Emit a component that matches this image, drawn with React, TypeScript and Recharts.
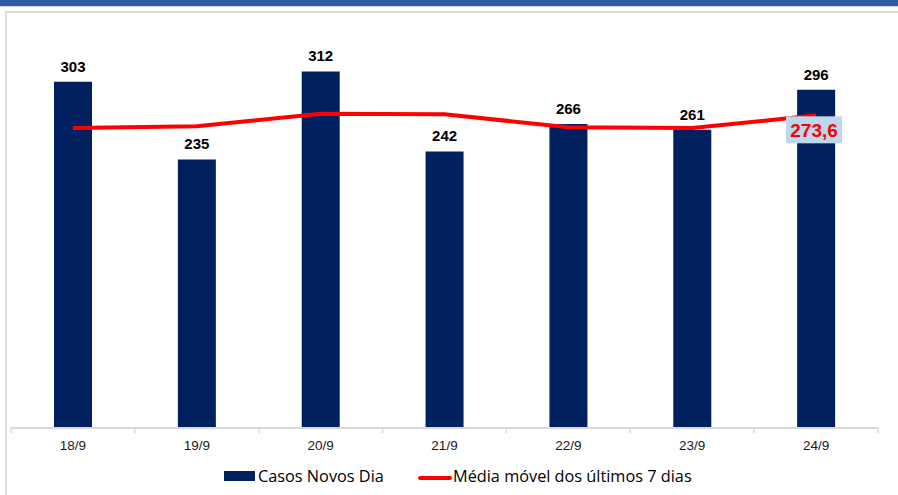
import React from "react";
import { ComposedChart, Bar, Line, XAxis, YAxis, LabelList, Legend } from "recharts";

const dias = ["18/9", "19/9", "20/9", "21/9", "22/9", "23/9", "24/9"];
const casosNovos = [303, 235, 312, 242, 266, 261, 296];
const mediaMovel = [262.4, 264.1, 274.9, 274.6, 263.1, 262.4, 273.6];

const data = dias.map((dia, i) => ({ dia, casos: casosNovos[i], media: mediaMovel[i] }));

const NAVY = "#002060";
const RED = "#FF0000";
const GRID = "#D9D9D9";
const TICK_SIZE = 6;
const TICK_MARGIN = 6;

// label + marcas nos limites das categorias (como no Excel)
function TickDia(props: any) {
  const { x, y, payload, index, visibleTicksCount } = props;
  const half = payload?.offset ?? 0;
  const axisY = y - TICK_SIZE - TICK_MARGIN;
  const last = index === (visibleTicksCount ?? dias.length) - 1;
  return (
    <g>
      <line x1={x - half} x2={x - half} y1={axisY} y2={axisY + 5} stroke={GRID} strokeWidth={1.5} />
      {last && <line x1={x + half} x2={x + half} y1={axisY} y2={axisY + 5} stroke={GRID} strokeWidth={1.5} />}
      <text
        x={x}
        y={y}
        dy="0.71em"
        textAnchor="middle"
        fill="#1a1a1a"
        fontSize={13.5}
        fontFamily="'Liberation Sans', Arial, sans-serif"
      >
        {payload.value}
      </text>
    </g>
  );
}

function UltimaMedia(props: any) {
  const { x, y, index, value } = props;
  if (index !== dias.length - 1) return null;
  const txt = Number(value).toFixed(1).replace(".", ",");
  return (
    <g>
      <rect x={x - 30} y={y + 1} width={56} height={27} fill="#BDD7EE" />
      <text
        x={x - 2}
        y={y + 15}
        textAnchor="middle"
        dominantBaseline="central"
        fill={RED}
        fontSize={19}
        fontWeight="bold"
        fontFamily="'Liberation Sans', Arial, sans-serif"
      >
        {txt}
      </text>
    </g>
  );
}

function Legenda() {
  const font = { fontFamily: "'Open Sans', sans-serif", fontSize: 16.3, color: "#000" };
  return (
    <div style={{ position: "relative", width: 898, height: 30 }}>
      <div style={{ position: "absolute", left: 224, top: 9, width: 31, height: 10, background: NAVY }} />
      <div style={{ ...font, position: "absolute", left: 258, top: 3, lineHeight: "22px" }}>Casos Novos Dia</div>
      <div
        style={{ position: "absolute", left: 418, top: 14, width: 34, height: 4, borderRadius: 2, background: RED }}
      />
      <div style={{ ...font, position: "absolute", left: 453, top: 3, lineHeight: "22px" }}>
        Média móvel dos últimos 7 dias
      </div>
    </div>
  );
}

export default function App() {
  return (
    <div style={{ position: "absolute", left: 0, top: 0, width: 898, height: 495, background: "#fff", overflow: "hidden" }}>
      <div style={{ position: "absolute", left: 0, top: 0, width: 898, height: 6, background: "#2F59A5" }} />
      <div style={{ position: "absolute", left: 0, top: 6, width: 898, height: 1, background: "#C9D3E6" }} />
      <div
        style={{
          position: "absolute",
          left: 5,
          top: 11,
          width: 920,
          height: 520,
          borderLeft: "2px solid #DCDCDC",
          borderTop: "2px solid #DCDCDC",
        }}
      />
      <div style={{ position: "absolute", left: 0, top: 0 }}>
        <ComposedChart width={898} height={495} data={data} margin={{ top: 28, right: 20, bottom: 0, left: 11 }}>
          <XAxis
            dataKey="dia"
            height={37}
            axisLine={{ stroke: GRID, strokeWidth: 2 }}
            tickLine={false}
            tickSize={TICK_SIZE}
            tickMargin={TICK_MARGIN}
            interval={0}
            tick={<TickDia />}
          />
          <YAxis hide domain={[0, 350]} />
          <Legend
            verticalAlign="bottom"
            content={() => <Legenda />}
            wrapperStyle={{ left: 0, top: 462, width: 898, height: 30 }}
          />
          <Bar dataKey="casos" fill={NAVY} barSize={38} isAnimationActive={false}>
            <LabelList
              dataKey="casos"
              position="top"
              offset={10}
              fill="#000"
              fontSize={15}
              fontWeight="bold"
              fontFamily="'Liberation Sans', Arial, sans-serif"
            />
          </Bar>
          <Line
            dataKey="media"
            stroke={RED}
            strokeWidth={4}
            dot={false}
            type="linear"
            isAnimationActive={false}
          >
            <LabelList dataKey="media" content={<UltimaMedia />} />
          </Line>
        </ComposedChart>
      </div>
    </div>
  );
}
